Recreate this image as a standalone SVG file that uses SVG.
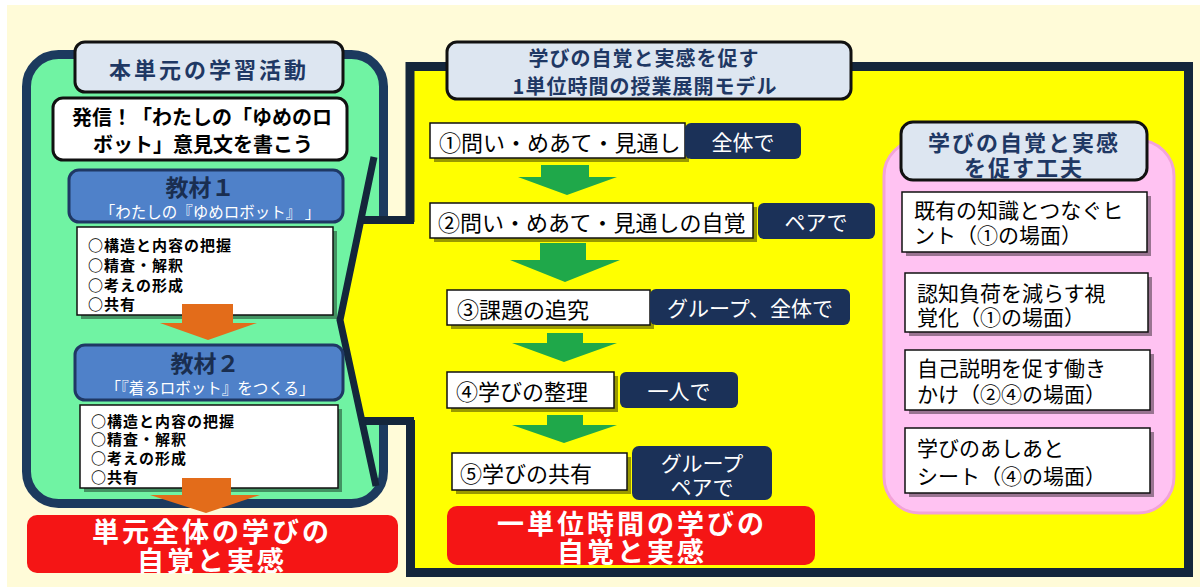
<svg xmlns="http://www.w3.org/2000/svg" width="1200" height="587" viewBox="0 0 1200 587">
<style>
text{font-family:"Noto Sans CJK JP","Noto Sans",sans-serif;dominant-baseline:central}
.ttl{fill:#dde6f1;stroke:#111;stroke-width:3}
.ttt{fill:#1f3864;font-weight:700;text-anchor:middle}
.wbox{fill:#fff;stroke:#111;stroke-width:1.5}
.shd{fill:#000;opacity:0.4}
.nv{fill:#1b3158}
.nvt{fill:#fff;font-size:21px;text-anchor:middle}
.stp{fill:#000;font-size:22px}
.red{fill:#f51515}
.redt{fill:#fff;font-size:27px;font-weight:700;text-anchor:middle;letter-spacing:3px}
.kz{fill:#4f81c9;stroke:#1f3864;stroke-width:3}
.lst{fill:#000;font-size:15px;font-weight:700;letter-spacing:1px}
.pk{fill:#000;font-size:21px}
.ga{fill:#1fa84a}
.oa{fill:#e36c1a}
</style>
<rect x="0" y="0" width="1200" height="587" fill="#ffffff"/>
<rect x="7" y="5" width="1193" height="582" fill="#fffbd8"/>

<g id="left-panel">
<rect x="26.5" y="54.5" width="357" height="449" rx="32" fill="#70f3a3" stroke="#1c3a5e" stroke-width="9"/>
</g>

<g id="model-panel">
<rect x="410" y="66" width="779" height="507" fill="#ffff00"/>
<path d="M410,223 V66.5 H1188.5 V572.5 H410.5 V418" fill="none" stroke="#14263b" stroke-width="9"/>
<polygon points="360,222 415,222 415,420 361,420 340,320" fill="#ffff00"/>
<rect x="359" y="216" width="55" height="8" fill="#14263b"/>
<rect x="361" y="417" width="53" height="8" fill="#14263b"/>
<polyline points="374,157 340,320 376,486" fill="none" stroke="#14263b" stroke-width="7" stroke-linejoin="miter"/>
</g>

<g id="left-title">
<rect class="ttl" x="75" y="42" width="268" height="50" rx="10"/>
<text class="ttt" x="209" y="68" font-size="22" letter-spacing="3">本単元の学習活動</text>
</g>

<g id="hasshin">
<rect x="53" y="98" width="294" height="62" rx="10" fill="#fff" stroke="#111" stroke-width="3"/>
<text font-size="20" font-weight="700" text-anchor="middle"><tspan x="202" y="116">発信！「わたしの「ゆめのロ</tspan><tspan x="203" y="143">ボット」意見文を書こう</tspan></text>
</g>

<g id="kyozai1">
<rect class="kz" x="69" y="170" width="274" height="52" rx="10"/>
<text text-anchor="middle"><tspan x="200" y="186" font-size="23" font-weight="700" fill="#1a2e50">教材１</tspan><tspan x="210" y="211" font-size="15.5" fill="#fff">「わたしの『ゆめロボット』 」</tspan></text>
</g>

<g id="list1">
<rect class="shd" x="81" y="231" width="256" height="88"/>
<rect class="wbox" x="77" y="227" width="256" height="88"/>
<text class="lst"><tspan x="88" y="244">○構造と内容の把握</tspan><tspan x="88" y="264">○精査・解釈</tspan><tspan x="88" y="284">○考えの形成</tspan><tspan x="88" y="303">○共有</tspan></text>
</g>

<g id="kyozai2">
<rect class="kz" x="75" y="345" width="268" height="55" rx="10"/>
<text text-anchor="middle"><tspan x="205" y="362" font-size="23" font-weight="700" fill="#1a2e50">教材２</tspan><tspan x="210" y="387" font-size="15.5" fill="#fff">「『着るロボット』をつくる」</tspan></text>
</g>

<g id="list2">
<rect class="shd" x="84" y="409" width="258" height="83"/>
<rect class="wbox" x="80" y="405" width="258" height="83"/>
<text class="lst"><tspan x="91" y="420">○構造と内容の把握</tspan><tspan x="91" y="438">○精査・解釈</tspan><tspan x="91" y="457">○考えの形成</tspan><tspan x="91" y="476">○共有</tspan></text>
</g>

<g id="unit-result">
<rect class="red" x="27" y="515" width="371" height="58" rx="10"/>
<text class="redt"><tspan x="212" y="530">単元全体の学びの</tspan><tspan x="212" y="559">自覚と実感</tspan></text>
</g>

<g id="model-title">
<rect class="ttl" x="447" y="42" width="404" height="57" rx="10"/>
<text class="ttt" font-size="20" letter-spacing="1"><tspan x="644" y="57">学びの自覚と実感を促す</tspan><tspan x="645" y="85">1単位時間の授業展開モデル</tspan></text>
</g>

<g id="step1">
<rect class="shd" x="434" y="127" width="255" height="35"/>
<rect class="wbox" x="430" y="123" width="255" height="35"/>
<text class="stp" x="439" y="141">①問い・めあて・見通し</text>
<rect class="nv" x="685" y="123" width="116" height="36" rx="6"/>
<text class="nvt" x="743" y="141">全体で</text>
</g>

<g id="step2">
<rect class="shd" x="434" y="207" width="323" height="35"/>
<rect class="wbox" x="430" y="203" width="323" height="35"/>
<text class="stp" x="438" y="221">②問い・めあて・見通しの自覚</text>
<rect class="nv" x="758" y="203" width="117" height="36" rx="6"/>
<text class="nvt" x="816" y="221">ペアで</text>
</g>

<g id="step3">
<rect class="shd" x="451" y="294" width="203" height="35"/>
<rect class="wbox" x="447" y="290" width="203" height="35"/>
<text class="stp" x="457" y="308">③課題の追究</text>
<rect class="nv" x="650" y="289" width="200" height="36" rx="6"/>
<text class="nvt" x="750" y="307">グループ、全体で</text>
</g>

<g id="step4">
<rect class="shd" x="451" y="376" width="167" height="36"/>
<rect class="wbox" x="447" y="372" width="167" height="36"/>
<text class="stp" x="456" y="390">④学びの整理</text>
<rect class="nv" x="620" y="372" width="118" height="36" rx="6"/>
<text class="nvt" x="679" y="390">一人で</text>
</g>

<g id="step5">
<rect class="shd" x="456" y="457" width="175" height="37"/>
<rect class="wbox" x="452" y="453" width="175" height="37"/>
<text class="stp" x="460" y="472">⑤学びの共有</text>
<rect class="nv" x="632" y="446" width="140" height="54" rx="7"/>
<text class="nvt"><tspan x="702" y="462">グループ</tspan><tspan x="702" y="486">ペアで</tspan></text>
</g>

<g id="hour-result">
<rect class="red" x="447" y="506" width="368" height="59" rx="10"/>
<text class="redt"><tspan x="632" y="522">一単位時間の学びの</tspan><tspan x="632" y="550">自覚と実感</tspan></text>
</g>

<g id="kufu-panel">
<rect x="884" y="140" width="290" height="373" rx="36" fill="#ffc2f2" stroke="#f2a3d8" stroke-width="3"/>
</g>

<g id="kufu-title">
<rect class="ttl" x="901" y="122" width="246" height="58" rx="12"/>
<text class="ttt" font-size="22" letter-spacing="2"><tspan x="1024" y="141">学びの自覚と実感</tspan><tspan x="1024" y="166">を促す工夫</tspan></text>
</g>

<g id="kufu1">
<rect class="shd" x="906" y="196" width="245" height="60"/>
<rect class="wbox" x="902" y="192" width="245" height="60"/>
<text class="pk"><tspan x="914" y="209">既有の知識とつなぐヒ</tspan><tspan x="914" y="234">ント（①の場面）</tspan></text>
</g>

<g id="kufu2">
<rect class="shd" x="909" y="277" width="243" height="59"/>
<rect class="wbox" x="905" y="273" width="243" height="59"/>
<text class="pk"><tspan x="917" y="292">認知負荷を減らす視</tspan><tspan x="917" y="316">覚化（①の場面）</tspan></text>
</g>

<g id="kufu3">
<rect class="shd" x="909" y="354" width="245" height="60"/>
<rect class="wbox" x="905" y="350" width="245" height="60"/>
<text class="pk"><tspan x="917" y="367">自己説明を促す働き</tspan><tspan x="917" y="393">かけ（②④の場面）</tspan></text>
</g>

<g id="kufu4">
<rect class="shd" x="909" y="432" width="245" height="65"/>
<rect class="wbox" x="905" y="428" width="245" height="65"/>
<text class="pk"><tspan x="917" y="447">学びのあしあと</tspan><tspan x="917" y="475">シート（④の場面）</tspan></text>
</g>

<g id="connectors">
<polygon class="oa" points="182,304 233,304 233,323 257,323 208,340 160,323 182,323"/>
<polygon class="oa" points="182,478 231,478 231,495 260,495 206,513 150,495 182,495"/>
<polygon class="ga" points="541,165 589,165 589,177 617,177 567,195 518,177 541,177"/>
<polygon class="ga" points="540,243 586,243 586,260 620,260 565,282 510,260 540,260"/>
<polygon class="ga" points="547,333 583,333 583,343 617,343 564,362 512,343 547,343"/>
<polygon class="ga" points="547,415 583,415 583,425 617,425 564,443 512,425 547,425"/>
</g>
</svg>
